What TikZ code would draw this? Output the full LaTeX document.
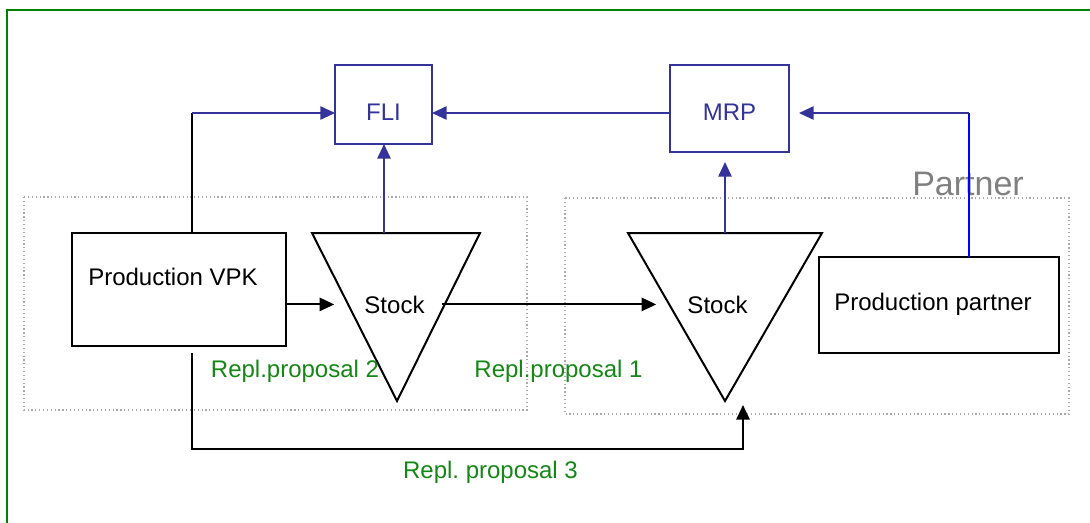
\documentclass[tikz,border=0pt]{standalone}
\usepackage{fontspec}
\setmainfont{Liberation Sans}
\usetikzlibrary{arrows.meta}
\definecolor{framegreen}{RGB}{0,128,0}
\definecolor{labelgreen}{RGB}{20,135,20}
\definecolor{infoblue}{RGB}{51,51,153}
\definecolor{zonegray}{RGB}{170,170,170}
\frenchspacing
\tikzset{
	conn/.style={line width=1.5pt, black},
	info/.style={line width=1.3pt, infoblue},
	tip/.style={-{Triangle[length=11pt,width=10pt]}},
	box/.style={draw, line width=1.5pt, inner sep=0pt, outer sep=0pt},
	infobox/.style={draw=infoblue, line width=1.3pt, inner sep=0pt, outer sep=0pt},
	zone/.style={zonegray, line width=0.9pt, dotted},
	txt/.style={anchor=base, inner sep=0pt, font=\fontsize{18}{21}\selectfont},
	repl/.style={txt, text=labelgreen},
}

\begin{document}
\begin{tikzpicture}[x=0.75pt, y=-0.75pt]
		%%%%% START %%%%%
		\useasboundingbox (0,0) rectangle (1090,522);
		\clip (0,0) rectangle (1090,522);
		\draw[framegreen, line width=1.6pt] (7,10) rectangle (1110,540);
		
		% zones
		\draw[zone] (24,197) rectangle (527,410);
		\draw[zone] (565,198) rectangle (1069,414);
		\node[txt, text=black!50, font=\fontsize{25.5}{30}\selectfont] (partnerlbl) at (968,195) {Partner};
		
		% planning systems
		\node[infobox, minimum width=72.75pt, minimum height=59.25pt] (fli) at (383.5,104.5) {};
		\node[txt, text=infoblue] at (383.5,120) {FLI};
		\node[infobox, minimum width=89.25pt, minimum height=65.25pt] (mrp) at (729.5,108.5) {};
		\node[txt, text=infoblue] at (729.5,120) {MRP};
		
		% production
		\node[box, minimum width=160.5pt, minimum height=84.75pt] (vpk) at (179,289.5) {};
		\node[txt] at (173,285) {Production VPK};
		\node[box, minimum width=180pt, minimum height=72pt] (prodpartner) at (939,305) {};
		\node[txt] at (933,310) {Production partner};
		
		% stocks
		\draw[conn, line join=miter] (312,233) -- (480,233) -- (397,401) -- cycle;
		\node[txt] (stockvpk) at (394.5,313) {Stock};
		\draw[conn, line join=miter] (628,233) -- (822,233) -- (725,401) -- cycle;
		\node[txt] (stockpartner) at (717.5,313) {Stock};
		\coordinate (stockvpktop) at (384,233);
		\coordinate (stockpartnertop) at (725,233);
		\coordinate (stockpartnerfoot) at (743,405);
		
		% information flow
		\coordinate (vpkup) at (192,113);
		\coordinate (partnerup) at (969,113);
		\draw[conn] (vpk.north -| vpkup) -- (vpkup);
		\draw[info, tip] (vpkup) -- (fli.west |- vpkup);
		\draw[info, tip] (stockvpktop) -- (fli.south -| stockvpktop);
		\draw[info, tip] (mrp.west |- vpkup) -- (fli.east |- vpkup);
		\draw[info, tip, shorten >=7.5pt] (stockpartnertop) -- (mrp.south -| stockpartnertop);
		\draw[line width=1.3pt, blue] (prodpartner.north -| partnerup) -- (partnerup);
		\draw[info, tip, shorten >=7.5pt] (partnerup) -- (mrp.east |- partnerup);
		
		% material flow
		\draw[conn, tip, shorten >=22.5pt] (vpk.east |- stockvpk) -- (stockvpk.west);
		\draw[conn, tip, shorten <=12.75pt, shorten >=23.25pt] (stockvpk.east) -- (stockpartner.west);
		\coordinate (r3) at (192,449);
		\draw[conn, tip, shorten <=5.25pt] (vpk.south -| r3) -- (r3) -- (r3 -| stockpartnerfoot) -- (stockpartnerfoot);
		
		% proposals
		\node[repl] (prop2) at (295,377) {Repl.proposal 2};
		\node[repl] (prop1) at (558.5,377) {Repl.proposal 1};
		\node[repl] (prop3) at (490.5,478) {Repl. proposal 3};
		%%%%% END %%%%%
\end{tikzpicture}
\end{document}
